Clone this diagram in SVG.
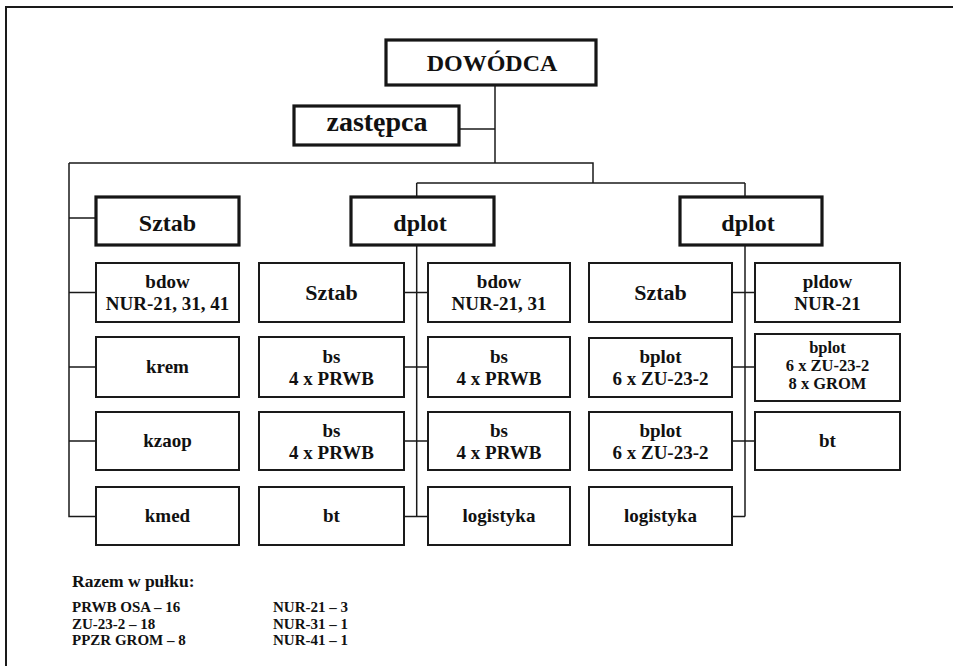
<svg xmlns="http://www.w3.org/2000/svg" width="953" height="666" viewBox="0 0 953 666">
<style>
.bg{fill:#ffffff}
.main{fill:#ffffff;stroke:#161616;stroke-width:3.2}
.box{fill:#ffffff;stroke:#1a1a1a;stroke-width:2}
.ln{fill:none;stroke:#1a1a1a;stroke-width:1.5}
.frame{fill:none;stroke:#1a1a1a;stroke-width:2}
text{font-family:"Liberation Serif","Times New Roman",serif;font-weight:bold;fill:#111;text-anchor:middle}
.t24{font-size:24px}
.t22{font-size:22px}
.t19{font-size:19px}
.t16{font-size:16.5px}
.ft{text-anchor:start;font-size:15px}
.fh{text-anchor:start;font-size:17.5px}
</style>
<rect class="bg" x="0" y="0" width="953" height="666"/>
<path class="frame" d="M6,666 V7 H953"/>

<g id="connectors">
<path class="ln" d="M495,85 V163"/>
<path class="ln" d="M459,129 H495"/>
<path class="ln" d="M69,163 H593 V183"/>
<path class="ln" d="M416.7,183 H745"/>
<path class="ln" d="M416.7,183 V197"/>
<path class="ln" d="M745,183 V197"/>
<path class="ln" d="M69,163 V516.5 H96"/>
<path class="ln" d="M69,218 H96 M69,292.5 H96 M69,367 H96 M69,441 H96"/>
<path class="ln" d="M416.7,246 V516.5"/>
<path class="ln" d="M404,292.5 H428 M404,367 H428 M404,441 H428 M404,516.5 H428"/>
<path class="ln" d="M745,246 V516.5"/>
<path class="ln" d="M732,292.5 H755 M732,367 H755 M732,441 H755 M732,516.5 H745"/>
</g>

<g id="dowodca"><rect class="main" x="386" y="40" width="210" height="45"/><text class="t24" x="492" y="71">DOWÓDCA</text></g>
<g id="zastepca"><rect class="main" x="294" y="106" width="165" height="39"/><text x="377" y="131" style="font-size:28px">zastępca</text></g>

<g id="sztab-main"><rect class="main" x="96" y="197" width="143" height="48"/><text class="t24" x="167.5" y="231">Sztab</text></g>
<g id="dplot1"><rect class="main" x="351" y="197" width="143" height="48"/><text class="t24" x="420" y="231">dplot</text></g>
<g id="dplot2"><rect class="main" x="680" y="197" width="142" height="48"/><text class="t24" x="748" y="231">dplot</text></g>

<g id="bdow1"><rect class="box" x="96" y="263" width="143" height="59"/><text class="t19" x="167.5" y="288">bdow</text><text class="t19" x="167.5" y="310">NUR-21, 31, 41</text></g>
<g id="krem"><rect class="box" x="96" y="337" width="143" height="60"/><text class="t19" x="167.5" y="373">krem</text></g>
<g id="kzaop"><rect class="box" x="96" y="412" width="143" height="58"/><text class="t19" x="167.5" y="447">kzaop</text></g>
<g id="kmed"><rect class="box" x="96" y="487" width="143" height="58"/><text class="t19" x="167.5" y="522">kmed</text></g>

<g id="sztab-a"><rect class="box" x="259" y="263" width="145" height="59"/><text class="t22" x="331.5" y="300">Sztab</text></g>
<g id="bs-a1"><rect class="box" x="259" y="337" width="145" height="60"/><text class="t19" x="331.5" y="363">bs</text><text class="t19" x="331.5" y="385">4 x PRWB</text></g>
<g id="bs-a2"><rect class="box" x="259" y="412" width="145" height="58"/><text class="t19" x="331.5" y="437">bs</text><text class="t19" x="331.5" y="459">4 x PRWB</text></g>
<g id="bt-a"><rect class="box" x="259" y="487" width="145" height="58"/><text class="t19" x="331.5" y="522">bt</text></g>

<g id="bdow-b"><rect class="box" x="428" y="263" width="142" height="59"/><text class="t19" x="499" y="288">bdow</text><text class="t19" x="499" y="310">NUR-21, 31</text></g>
<g id="bs-b1"><rect class="box" x="428" y="337" width="142" height="60"/><text class="t19" x="499" y="363">bs</text><text class="t19" x="499" y="385">4 x PRWB</text></g>
<g id="bs-b2"><rect class="box" x="428" y="412" width="142" height="58"/><text class="t19" x="499" y="437">bs</text><text class="t19" x="499" y="459">4 x PRWB</text></g>
<g id="logistyka-b"><rect class="box" x="428" y="487" width="142" height="58"/><text class="t19" x="499" y="522">logistyka</text></g>

<g id="sztab-c"><rect class="box" x="589" y="263" width="143" height="59"/><text class="t22" x="660.5" y="300">Sztab</text></g>
<g id="bplot-c1"><rect class="box" x="589" y="338" width="143" height="59"/><text class="t19" x="660.5" y="363">bplot</text><text class="t19" x="660.5" y="385">6 x ZU-23-2</text></g>
<g id="bplot-c2"><rect class="box" x="589" y="412" width="143" height="58"/><text class="t19" x="660.5" y="437">bplot</text><text class="t19" x="660.5" y="459">6 x ZU-23-2</text></g>
<g id="logistyka-c"><rect class="box" x="589" y="487" width="143" height="58"/><text class="t19" x="660.5" y="522">logistyka</text></g>

<g id="pldow"><rect class="box" x="755" y="263" width="145" height="59"/><text class="t19" x="827.5" y="288">pldow</text><text class="t19" x="827.5" y="310">NUR-21</text></g>
<g id="bplot-d"><rect class="box" x="755" y="334" width="145" height="67"/><text class="t16" x="827.5" y="353">bplot</text><text class="t16" x="827.5" y="371">6 x ZU-23-2</text><text class="t16" x="827.5" y="388.5">8 x GROM</text></g>
<g id="bt-d"><rect class="box" x="755" y="412" width="145" height="58"/><text class="t19" x="827.5" y="447">bt</text></g>

<g id="legend">
<text class="fh" x="72" y="587">Razem w pułku:</text>
<text class="ft" x="72" y="612">PRWB OSA – 16</text>
<text class="ft" x="72" y="628.5">ZU-23-2 – 18</text>
<text class="ft" x="72" y="645">PPZR GROM – 8</text>
<text class="ft" x="273" y="612">NUR-21 – 3</text>
<text class="ft" x="273" y="628.5">NUR-31 – 1</text>
<text class="ft" x="273" y="645">NUR-41 – 1</text>
</g>
</svg>
